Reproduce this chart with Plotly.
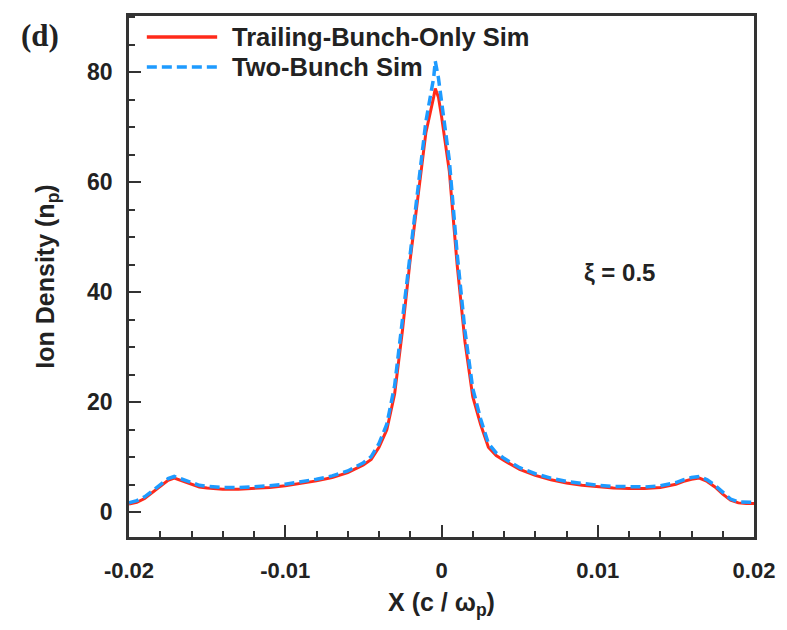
import plotly.graph_objects as go

x_vals = [-0.02, -0.0195, -0.019, -0.0185, -0.018, -0.0175, -0.0171, -0.0165, -0.016, -0.0155,
          -0.015, -0.014, -0.013, -0.012, -0.011, -0.010, -0.009, -0.008, -0.007, -0.006,
          -0.005, -0.0045, -0.004, -0.0035, -0.003, -0.0025, -0.002, -0.0015, -0.001, -0.0005,
          -0.0004, -0.0002, 0.0, 0.0005, 0.001, 0.0015, 0.002, 0.0025, 0.003, 0.0035,
          0.004, 0.005, 0.006, 0.007, 0.008, 0.009, 0.010, 0.011, 0.012, 0.013,
          0.014, 0.015, 0.0155, 0.016, 0.0165, 0.017, 0.0175, 0.018, 0.0185, 0.019,
          0.0195, 0.02]

trailing_only = [1.5, 1.8, 2.5, 3.6, 4.8, 5.8, 6.2, 5.6, 5.0, 4.6,
                 4.4, 4.2, 4.2, 4.3, 4.5, 4.8, 5.2, 5.7, 6.3, 7.2,
                 8.6, 9.6, 11.8, 15.0, 21.5, 33.0, 46.0, 58.0, 69.0, 75.5,
                 77.0, 75.5, 72.0, 62.0, 45.0, 31.0, 21.0, 16.0, 11.8, 10.3,
                 9.4, 7.8, 6.7, 5.9, 5.3, 4.9, 4.6, 4.4, 4.3, 4.3,
                 4.5, 5.1, 5.6, 6.0, 6.2, 5.6, 4.6, 3.3, 2.2, 1.7,
                 1.6, 1.6]

two_bunch = [1.7, 2.1, 2.8, 3.9, 5.1, 6.1, 6.5, 5.9, 5.3, 4.9,
             4.7, 4.5, 4.5, 4.6, 4.8, 5.1, 5.5, 6.0, 6.6, 7.5,
             9.0, 10.1, 12.5, 16.0, 23.0, 35.0, 48.0, 60.0, 71.0, 79.0,
             82.0, 79.0, 75.0, 64.0, 47.0, 33.0, 22.5, 17.0, 12.5, 10.8,
             9.8, 8.1, 7.0, 6.2, 5.6, 5.2, 4.9, 4.7, 4.6, 4.6,
             4.8, 5.4, 5.9, 6.3, 6.5, 5.9, 4.9, 3.6, 2.4, 1.9,
             1.8, 1.8]

series_names = ["Trailing-Bunch-Only Sim", "Two-Bunch Sim"]
series_colors = ["#ff2a1a", "#1e9bff"]

x_ticks = [-0.02, -0.01, 0, 0.01, 0.02]
x_tick_text = ["-0.02", "-0.01", "0", "0.01", "0.02"]
y_ticks = [0, 20, 40, 60, 80]
y_tick_text = ["0", "20", "40", "60", "80"]

font_main = "Liberation Sans, Arial, sans-serif"
txt_col = "#222222"
axis_col = "#333333"

fig = go.Figure()
fig.add_trace(go.Scatter(x=x_vals, y=trailing_only, mode="lines", name=series_names[0],
                         line=dict(color=series_colors[0], width=3), showlegend=False))
fig.add_trace(go.Scatter(x=x_vals, y=two_bunch, mode="lines", name=series_names[1],
                         line=dict(color=series_colors[1], width=3.5, dash="10px,5px"), showlegend=False))

fig.update_layout(
    width=787, height=630,
    margin=dict(l=129, r=27, t=16, b=93),
    plot_bgcolor="white", paper_bgcolor="white",
    font=dict(family=font_main, size=20, color=txt_col),
    showlegend=False,
    xaxis=dict(range=[-0.02, 0.02], tickvals=x_ticks,
               ticktext=["<b>" + t + "</b>" for t in x_tick_text],
               ticks="inside", ticklen=12, tickwidth=2, tickcolor=axis_col,
               minor=dict(dtick=0.002, tick0=0, ticks="inside", ticklen=6, tickwidth=1.5, tickcolor=axis_col),
               showline=True, linecolor=axis_col, linewidth=2.5, mirror=True,
               showgrid=False, zeroline=False,
               tickfont=dict(size=22, color=txt_col), ticklabelstandoff=12,
               title=dict(text="<b>X (c / ω<sub>p</sub>)</b>", font=dict(size=25, color=txt_col), standoff=12)),
    yaxis=dict(range=[-4.5, 90.2], tickvals=y_ticks,
               ticktext=["<b>" + t + "</b>" for t in y_tick_text],
               ticks="inside", ticklen=12, tickwidth=2, tickcolor=axis_col,
               minor=dict(dtick=5, tick0=0, ticks="inside", ticklen=6, tickwidth=1.5, tickcolor=axis_col),
               showline=True, linecolor=axis_col, linewidth=2.5, mirror=True,
               showgrid=False, zeroline=False,
               tickfont=dict(size=23, color=txt_col), ticklabelstandoff=9,
               title=dict(text="<b>Ion Density (n<sub>p</sub>)</b>", font=dict(size=25, color=txt_col), standoff=26)),
)

# custom legend (line samples + labels) in pixel-derived paper coords
plot_w = 787 - 129 - 27
plot_h = 630 - 16 - 93
def px_to_paper(px, py):
    return (px - 129) / plot_w, 1 - (py - 16) / plot_h

leg_rows = [37, 67]
for i, name in enumerate(series_names):
    x0, y0 = px_to_paper(147, leg_rows[i])
    x1, _ = px_to_paper(218, leg_rows[i])
    dash = "solid" if i == 0 else "10px,5px"
    fig.add_shape(type="line", xref="paper", yref="paper", x0=x0, x1=x1, y0=y0, y1=y0,
                  line=dict(color=series_colors[i], width=3.5, dash=dash))
    tx, _ = px_to_paper(231, leg_rows[i])
    fig.add_annotation(text="<b>" + name + "</b>", xref="paper", yref="paper", x=tx, y=y0,
                       xanchor="left", yanchor="middle", showarrow=False,
                       font=dict(size=25.5, color=txt_col))

fig.add_annotation(text="<b>(d)</b>", xref="paper", yref="paper", x=px_to_paper(18, 0)[0],
                   y=px_to_paper(0, 36)[1],
                   xanchor="left", yanchor="middle", showarrow=False,
                   font=dict(family="Liberation Serif, Times New Roman, serif", size=31, color=txt_col))
fig.add_annotation(text="<b>ξ = 0.5</b>", xref="paper", yref="paper", x=px_to_paper(586, 0)[0],
                   y=px_to_paper(0, 272)[1],
                   xanchor="left", yanchor="middle", showarrow=False,
                   font=dict(size=24, color=txt_col))

fig.write_html("out.html")
